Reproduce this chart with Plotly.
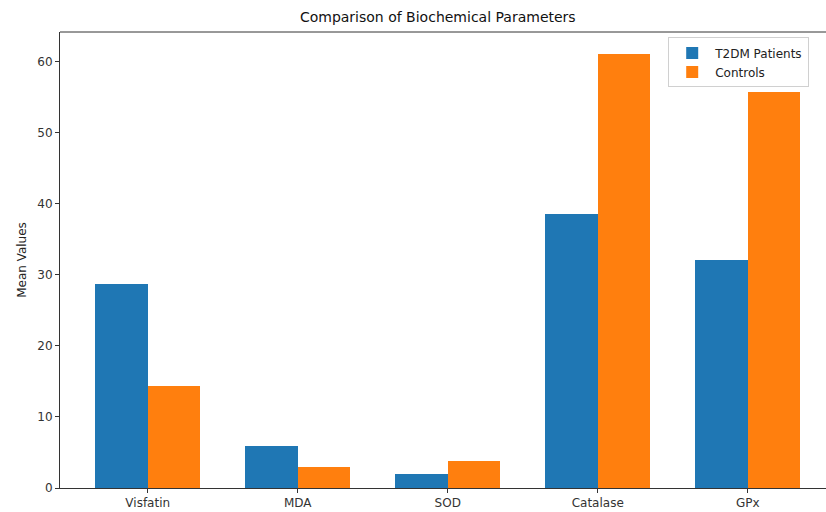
import plotly.graph_objects as go

categories = ["Visfatin", "MDA", "SOD", "Catalase", "GPx"]
t2dm = [28.7, 5.85, 1.95, 38.5, 32.1]
controls = [14.3, 2.95, 3.75, 61.1, 55.7]
yticks = [0, 10, 20, 30, 40, 50, 60]

x_idx = list(range(len(categories)))
w = 0.35

fig = go.Figure()
fig.add_trace(go.Bar(x=[i - w / 2 for i in x_idx], y=t2dm, width=w, name="T2DM Patients",
                     marker=dict(color="#1f77b4", line=dict(width=0))))
fig.add_trace(go.Bar(x=[i + w / 2 for i in x_idx], y=controls, width=w, name="Controls",
                     marker=dict(color="#ff7f0e", line=dict(width=0))))

font = "DejaVu Sans, Verdana, sans-serif"
fig.update_layout(
    width=826, height=512,
    margin=dict(l=60, r=0, t=32, b=24, autoexpand=False),
    paper_bgcolor="white", plot_bgcolor="white",
    font=dict(family=font, size=12, color="#222"),
    barmode="overlay",
    bargap=0,
    title=dict(text="Comparison of Biochemical Parameters", x=0.53, xanchor="center",
               y=0.967, yanchor="middle", font=dict(size=14, color="#111")),
    xaxis=dict(range=[-0.585, 4.522], tickmode="array", tickvals=x_idx, ticktext=categories,
               showgrid=False, zeroline=False, showline=True, linecolor="#333", linewidth=1,
               ticks="outside", ticklen=4, tickcolor="#333", mirror=False, automargin=False,
               tickfont=dict(size=12, color="#333")),
    yaxis=dict(range=[0, 64.15], tickmode="array", tickvals=yticks, automargin=False,
               showgrid=False, zeroline=False, showline=True, linecolor="#333", linewidth=1,
               ticks="outside", ticklen=4, tickcolor="#333",
               tickfont=dict(size=12, color="#333"),
               title=dict(text="Mean Values", font=dict(size=12, color="#222"), standoff=8)),
    legend=dict(x=0.794, y=0.988, xanchor="left", yanchor="top",
                bgcolor="rgba(255,255,255,0.9)", bordercolor="#d0d0d0", borderwidth=1,
                font=dict(size=12, color="#222"), itemwidth=36, tracegroupgap=2),
    showlegend=True,
)
# top spine
fig.add_shape(type="line", xref="paper", yref="paper", x0=0, x1=1, y0=1, y1=1,
              line=dict(color="#333", width=1))

fig.write_html(
    "out.html",
    config={"displayModeBar": False},
    post_script="document.body.style.margin='0';document.body.style.overflow='hidden';",
)
